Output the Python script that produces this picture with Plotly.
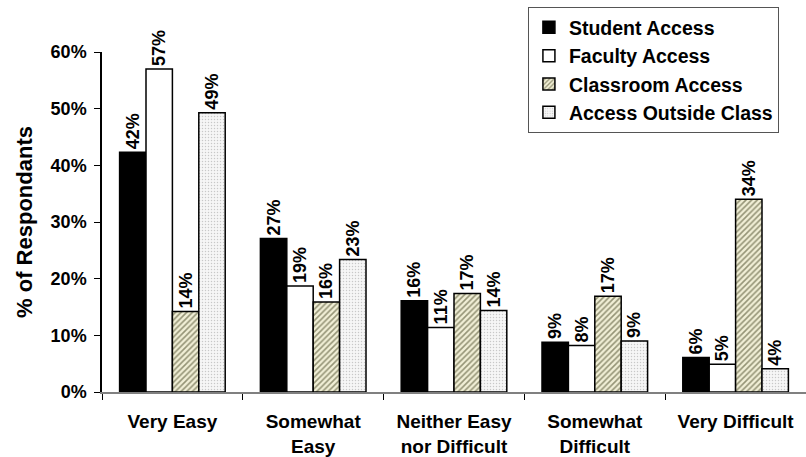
import plotly.graph_objects as go

categories = ["Very Easy", "Somewhat<br>Easy", "Neither Easy<br>nor Difficult",
              "Somewhat<br>Difficult", "Very Difficult"]
student_access = [0.423, 0.271, 0.161, 0.088, 0.061]
faculty_access = [0.570, 0.187, 0.114, 0.082, 0.049]
classroom_access = [0.142, 0.159, 0.174, 0.169, 0.340]
outside_class = [0.493, 0.234, 0.144, 0.090, 0.041]

FONT = "Liberation Sans, Arial, sans-serif"
LABEL_FONT = dict(family=FONT, size=18, color="black", weight="bold")

fig = go.Figure()

def add(name, vals, color, pattern=None):
    marker = dict(color=color, line=dict(color="black", width=1.5))
    if pattern:
        marker["pattern"] = pattern
    fig.add_trace(go.Bar(
        name=name, x=categories, y=vals, marker=marker,
        texttemplate="%{y:.0%}", textposition="outside", textangle=-90,
        constraintext="none",
        textfont=LABEL_FONT, cliponaxis=False, legendgroup=name,
    ))

add("Student Access", student_access, "black")
add("Faculty Access", faculty_access, "white")
add("Classroom Access", classroom_access, "#efedd2",
    dict(shape="/", fgcolor="#3a3a18", bgcolor="#f1efd6", size=4, solidity=0.4))
add("Access Outside Class", outside_class, "white",
    dict(shape=".", fgcolor="#9a9a9a", bgcolor="#f6f6f6", size=3, solidity=0.2))

fig.update_layout(
    width=806, height=457,
    margin=dict(l=102, r=0, t=52, b=65),
    plot_bgcolor="white", paper_bgcolor="white",
    barmode="group", bargap=0.25, bargroupgap=0,
    font=dict(family=FONT, color="black"),
    showlegend=True,
    legend=dict(
        x=0.605, y=1.132, xanchor="left", yanchor="top",
        bgcolor="white", bordercolor="#555555", borderwidth=1,
        font=dict(family=FONT, size=19.5, color="black", weight="bold"),
        tracegroupgap=6, traceorder="normal",
    ),
    xaxis=dict(
        showline=True, linecolor="#808080", linewidth=2,
        ticks="outside", tickson="boundaries", ticklen=6, tickcolor="black",
        tickfont=dict(family=FONT, size=19, color="black", weight="bold"),
        ticklabelstandoff=11, showgrid=False, automargin=False,
    ),
    yaxis=dict(
        range=[0, 0.6], dtick=0.1, tickformat=".0%",
        showline=True, linecolor="black", linewidth=1.5,
        ticks="outside", ticklen=6, tickcolor="black",
        tickfont=dict(family=FONT, size=18, color="black", weight="bold"),
        ticklabelstandoff=4, automargin=False,
        showgrid=False, zeroline=False,
        title=dict(text="% of Respondants", standoff=12,
                   font=dict(family=FONT, size=22, color="black", weight="bold")),
    ),
)

fig.write_html("out.html")
